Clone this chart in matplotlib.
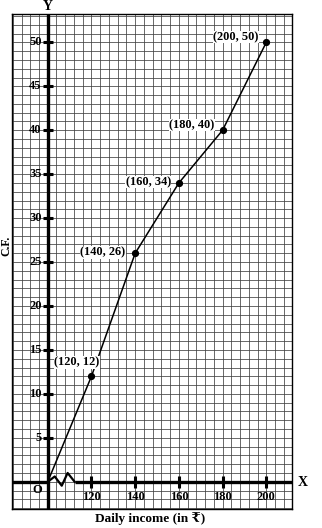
import matplotlib
matplotlib.use("Agg")
import matplotlib.pyplot as plt
import numpy as np

# Data
income = [100, 120, 140, 160, 180, 200]
cf = [0, 12, 26, 34, 40, 50]
labels = ["(120, 12)", "(140, 26)", "(160, 34)", "(180, 40)", "(200, 50)"]
x_ticks = [120, 140, 160, 180, 200]
y_ticks = [5, 10, 15, 20, 25, 30, 35, 40, 45, 50]

SERIF = ["Liberation Serif", "DejaVu Serif", "DejaVu Sans"]

fig = plt.figure(figsize=(3.22, 5.28), dpi=100)
ax = fig.add_axes([0.037, 0.036, 0.870, 0.937])
x0, x1 = 83.6, 211.8
y0, y1 = -3.1, 53.2
ax.set_xlim(x0, x1)
ax.set_ylim(y0, y1)
ax.set_xticks([])
ax.set_yticks([])
for s in ax.spines.values():
    s.set_linewidth(1.0)
    s.set_color("black")

# graph paper grid
for gx in np.arange(84, 212, 4):
    ax.axvline(gx, color="#404040", lw=0.55, zorder=1)
for gy in np.arange(-3, 54, 1):
    ax.axhline(gy, color="#404040", lw=0.55, zorder=1)

# axes
ax.axvline(100, color="black", lw=2.4, zorder=3)
ax.plot([x0, 100], [0, 0], color="black", lw=2.4, zorder=3, solid_capstyle="butt")
zig_x = [100, 103.2, 106.4, 109.1, 112.3]
zig_y = [0, 0.6, -0.45, 1.0, 0]
ax.plot(zig_x, zig_y, color="black", lw=1.6, zorder=3)
ax.plot([112.3, x1], [0, 0], color="black", lw=2.4, zorder=3, solid_capstyle="butt")

# tick marks
ax.plot([100] * len(y_ticks), y_ticks, ls="none", marker="_", ms=7, mew=2.2, color="black", zorder=4)
ax.plot(x_ticks, [0] * len(x_ticks), ls="none", marker="|", ms=8, mew=2.2, color="black", zorder=4)

for yt in y_ticks:
    ax.text(97.2, yt, str(yt), ha="right", va="center", fontsize=9, fontweight="bold",
            family=SERIF, zorder=5)
for xt in x_ticks:
    ax.text(xt, -1.75, str(xt), ha="center", va="center", fontsize=9, fontweight="bold",
            family=SERIF, zorder=5)
ax.text(95.3, -0.9, "O", ha="center", va="center", fontsize=9, fontweight="bold", family=SERIF, zorder=5)

# ogive
ax.plot(income, cf, color="black", lw=1.1, zorder=6)
ax.plot(income[1:], cf[1:], ls="none", marker="o", ms=4.2, color="black", zorder=7)

offsets = [(-6.8, 1.6), (-14.8, 0.1), (-14.0, 0.1), (-14.0, 0.6), (-13.8, 0.6)]
for (xi, yi), lab, (dx, dy) in zip(zip(income[1:], cf[1:]), labels, offsets):
    ax.text(xi + dx, yi + dy, lab, ha="center", va="center", fontsize=8.9, fontweight="bold",
            family=SERIF, zorder=8, bbox=dict(facecolor="white", edgecolor="none", pad=0.3))

# axis names
fig.text(303 / 322, 1 - 482 / 528, "X", ha="center", va="center", fontsize=10, fontweight="bold", family=SERIF)
fig.text(48 / 322, 1 - 6 / 528, "Y", ha="center", va="center", fontsize=10, fontweight="bold", family=SERIF)
fig.text(150 / 322, 1 - 519 / 528, "Daily income (in ₹)", ha="center", va="center", fontsize=9.5,
         fontweight="bold", family=SERIF)
fig.text(6 / 322, 1 - 246 / 528, "C.F.", ha="center", va="center", fontsize=8.5, fontweight="bold",
         family=SERIF, rotation=90)

fig.savefig("out.png", dpi=100)
